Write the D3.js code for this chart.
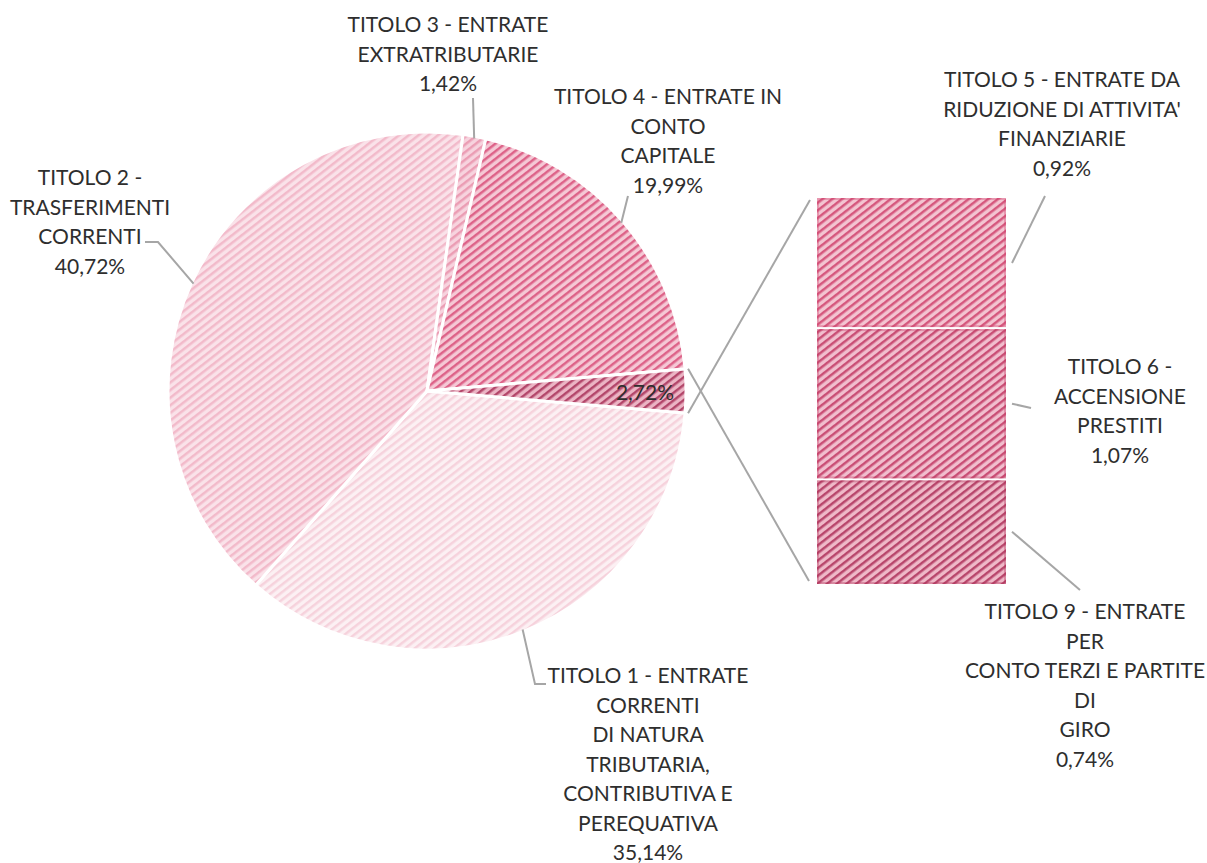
<!DOCTYPE html>
<html>
<head>
<meta charset="utf-8">
<script src="https://cdn.jsdelivr.net/npm/d3@7"></script>
<style>
  body { margin: 0; background: #fff; }
  svg text { font-family: Lato, "Noto Sans", sans-serif; fill: #2e2e2e; }
</style>
</head>
<body>
<svg id="chart"></svg>
<script>
// main pie: Titolo 1..4 + "altro" slice (Titolo 5, 6, 9)
let mainKeys = ["t1", "t2", "t3", "t4", "other"];
let mainValues = [35.14, 40.72, 1.42, 19.99, 2.72];
let mainLabels = [
  ["TITOLO 1 - ENTRATE", "CORRENTI", "DI NATURA", "TRIBUTARIA,", "CONTRIBUTIVA E", "PEREQUATIVA"],
  ["TITOLO 2 -", "TRASFERIMENTI", "CORRENTI"],
  ["TITOLO 3 - ENTRATE", "EXTRATRIBUTARIE"],
  ["TITOLO 4 - ENTRATE IN", "CONTO", "CAPITALE"],
  []
];

// secondary bar
let barKeys = ["t5", "t6", "t9"];
let barValues = [0.92, 1.07, 0.74];
let barLabels = [
  ["TITOLO 5 - ENTRATE DA", "RIDUZIONE DI ATTIVITA'", "FINANZIARIE"],
  ["TITOLO 6 -", "ACCENSIONE", "PRESTITI"],
  ["TITOLO 9 - ENTRATE", "PER", "CONTO TERZI E PARTITE", "DI", "GIRO"]
];

let fmt = v => v.toFixed(2).replace(".", ",") + "%";

// fill colours: [background, stripe]
let fills = {
  t1: ["#fcf0f3", "#f5cdd8"],
  t2: ["#fae2e9", "#f1b3c4"],
  t3: ["#f7d3de", "#e994ad"],
  t4: ["#f5c8d5", "#d9507a"],
  other: ["#ebb4c4", "#a9325b"],
  t5: ["#f3c4d1", "#d0446f"],
  t6: ["#f1bece", "#c23b65"],
  t9: ["#efb9c8", "#ae315a"]
};

let width = 1207;
let height = 863;
let cx = 427;
let cy = 391;
let radius = 259;
let fontSize = 21;
let lineH = 29.5;

let svg = d3.select("#chart").attr("width", width).attr("height", height);

let defs = svg.append("defs");
Object.keys(fills).forEach(k => {
  let p = defs
    .append("pattern")
    .attr("id", "pat-" + k)
    .attr("patternUnits", "userSpaceOnUse")
    .attr("width", 6)
    .attr("height", 6)
    .attr("patternTransform", "rotate(-38)");
  p.append("rect").attr("width", 6).attr("height", 6).attr("fill", fills[k][0]);
  p.append("rect")
    .attr("y", 2)
    .attr("width", 6)
    .attr("height", 2.5)
    .attr("fill", fills[k][1])
    .attr("opacity", 0.85);
});

let total = d3.sum(mainValues);
let otherShare = mainValues[4] / total;
// centre the "other" slice on 3 o'clock
let start = Math.PI / 2 + otherShare * Math.PI;

let pie = d3
  .pie()
  .sort(null)
  .startAngle(start)
  .endAngle(start + 2 * Math.PI);

let arcs = pie(mainValues);
let arc = d3.arc().innerRadius(0).outerRadius(radius);

let g = svg.append("g").attr("transform", `translate(${cx},${cy})`);

g.selectAll("path")
  .data(arcs)
  .enter()
  .append("path")
  .attr("d", arc)
  .attr("fill", (d, i) => `url(#pat-${mainKeys[i]})`)
  .attr("stroke", "#fff")
  .attr("stroke-width", 3)
  .attr("stroke-linejoin", "round");

// point on the circle at angle a (d3 angle convention)
function onCircle(a, r) {
  return [cx + r * Math.sin(a), cy - r * Math.cos(a)];
}

// secondary bar
let barX = 817;
let barW = 189;
let barTotal = d3.sum(barValues);
let yScale = d3.scaleLinear().domain([0, barTotal]).range([198, 584]);
let cum = [0];
barValues.forEach((v, i) => cum.push(cum[i] + v));

let bars = svg.append("g");
barValues.forEach((v, i) => {
  let y0 = yScale(cum[i]);
  let y1 = yScale(cum[i + 1]);
  bars
    .append("rect")
    .attr("x", barX)
    .attr("y", y0 + (i > 0 ? 1 : 0))
    .attr("width", barW)
    .attr("height", y1 - y0 - (i > 0 ? 1 : 0) - (i < barValues.length - 1 ? 1 : 0))
    .attr("fill", `url(#pat-${barKeys[i]})`);
  bars
    .append("rect")
    .attr("x", barX + 1)
    .attr("y", y0 + (i > 0 ? 2 : 1))
    .attr("width", barW - 2)
    .attr("height", y1 - y0 - (i > 0 ? 3 : 2) - (i < barValues.length - 1 ? 1 : 0))
    .attr("fill", "none")
    .attr("stroke", fills[barKeys[i]][1])
    .attr("stroke-opacity", 0.35)
    .attr("stroke-width", 2);
});

// connector lines pie -> bar
let lineColor = "#a6a6a6";
let otherArc = arcs[4];
let pTop = onCircle(otherArc.endAngle, radius + 3);
let pBot = onCircle(otherArc.startAngle, radius + 3);
svg.append("line")
  .attr("x1", pTop[0]).attr("y1", pTop[1])
  .attr("x2", barX - 7).attr("y2", yScale(0) + 2)
  .attr("stroke", lineColor).attr("stroke-width", 2);
svg.append("line")
  .attr("x1", pBot[0]).attr("y1", pBot[1])
  .attr("x2", barX - 8).attr("y2", yScale(barTotal) - 3)
  .attr("stroke", lineColor).attr("stroke-width", 2);

// label layout (centre x, first line centre y, leader elbow points)
let mainLabelPos = [
  { x: 648, y: 676, leader: [[535, 684], [546, 684]] },
  { x: 90, y: 178, leader: [[158, 242], [145, 242]] },
  { x: 448, y: 25, leader: [[473, 98]] },
  { x: 668, y: 97, leader: [[628, 196]] }
];
let barLabelPos = [
  { x: 1062, y: 80, leader: [[1045, 196]] },
  { x: 1120, y: 367, leader: [[1031, 408]] },
  { x: 1085, y: 612, leader: [[1080, 590]] }
];

let lineGen = d3.line();

function drawLabel(lines, pos) {
  let t = svg.append("text")
    .attr("text-anchor", "middle")
    .attr("font-size", fontSize);
  lines.forEach((s, j) => {
    t.append("tspan")
      .attr("x", pos.x)
      .attr("y", pos.y + j * lineH)
      .attr("dy", "0.35em")
      .text(s);
  });
}

mainLabelPos.forEach((pos, i) => {
  let a = arcs[i];
  let mid = (a.startAngle + a.endAngle) / 2;
  let p = onCircle(mid, radius - 2);
  svg.append("path")
    .attr("d", lineGen([p].concat(pos.leader)))
    .attr("fill", "none")
    .attr("stroke", lineColor)
    .attr("stroke-width", 2);
  drawLabel(mainLabels[i].concat([fmt(mainValues[i])]), pos);
});

barLabelPos.forEach((pos, i) => {
  let ym = (yScale(cum[i]) + yScale(cum[i + 1])) / 2;
  svg.append("path")
    .attr("d", lineGen([[barX + barW + 6, ym]].concat(pos.leader)))
    .attr("fill", "none")
    .attr("stroke", lineColor)
    .attr("stroke-width", 2);
  drawLabel(barLabels[i].concat([fmt(barValues[i])]), pos);
});

// value inside the "other" slice
let oc = onCircle((otherArc.startAngle + otherArc.endAngle) / 2, radius - 40);
svg.append("text")
  .attr("x", oc[0] - 1)
  .attr("y", oc[1] + 2)
  .attr("dy", "0.35em")
  .attr("text-anchor", "middle")
  .attr("font-size", fontSize)
  .text(fmt(mainValues[4]));
</script>
</body>
</html>
